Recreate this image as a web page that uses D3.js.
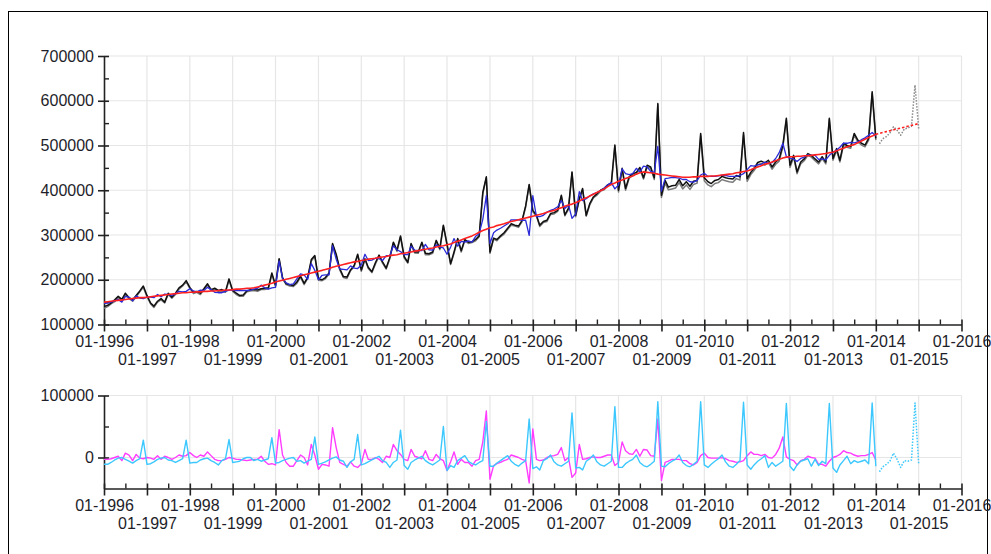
<!DOCTYPE html>
<html><head><meta charset="utf-8">
<script src="https://cdn.jsdelivr.net/npm/d3@7"></script>
<style>
html,body{margin:0;padding:0;background:#fff;}
svg{display:block;font-family:"Liberation Sans",Arial,sans-serif;}
</style></head><body>
<svg id="c" width="991" height="554"></svg>
<script>
// ---------- DATA (values in thousands) ----------
const startMonth = [1996, 1];
const forecastStartMonth = [2014, 2];
const unit = 1000;

// original series (black)
const original = [
140,143,148,155,163,156,170,160,155,165,175,186,
165,148,141,152,158,150,170,161,170,182,188,198,
183,172,174,170,180,191,178,181,176,178,174,202,
176,170,165,166,175,178,178,177,180,181,182,215,
188,247,205,191,189,187,195,208,192,205,245,254,
202,200,205,215,281,257,225,207,206,222,232,257,
222,247,228,218,238,255,240,226,250,284,266,298,
252,239,281,262,262,284,259,258,262,288,270,322,
280,236,262,292,265,290,284,285,290,298,395,430,
262,293,290,298,305,315,325,322,320,332,365,413,
355,344,322,330,333,348,350,355,389,345,360,441,
344,381,404,344,370,385,392,400,404,412,416,501,
400,449,404,430,437,440,451,428,456,452,428,594,
389,422,407,410,411,424,410,419,409,420,422,527,
428,419,415,422,424,431,428,426,425,433,430,529,
426,440,449,462,465,461,467,452,463,470,501,561,
456,478,441,463,470,482,478,470,463,475,463,561,
471,493,467,505,500,498,527,512,505,501,516,620,
516];

// calendar adjusted series (grey)
const calendarAdjusted = [
136,140,146,151,160,154,166,158,152,162,173,183,
162,146,138,150,155,148,167,159,167,179,186,195,
181,169,172,167,178,188,176,178,174,175,172,199,
174,167,163,163,173,175,176,174,178,178,180,212,
185,245,202,189,186,185,192,206,189,203,242,252,
199,198,202,213,278,255,222,205,203,220,229,255,
219,245,225,216,235,253,237,224,247,282,263,296,
249,237,278,260,259,282,256,256,259,286,267,320,
277,234,259,290,262,288,281,283,287,296,392,428,
259,291,287,296,302,313,322,320,317,330,362,411,
352,342,319,328,330,346,347,353,386,343,357,439,
341,379,401,342,367,383,389,398,401,410,413,499,
396,446,400,427,433,437,447,425,452,449,424,591,
384,416,401,403,405,417,403,412,402,413,416,522,
421,412,408,415,417,424,421,419,418,426,423,524,
420,435,444,457,460,456,462,447,458,465,496,557,
451,474,437,459,466,478,474,466,459,471,459,558,
467,489,463,501,496,494,523,508,501,497,512,617,
512];

// seasonally adjusted (blue)
const seasonallyAdjusted = [
147,148,150,153,156,150,163,161,153,164,159,158,
161,161,160,167,162,168,167,165,169,174,173,174,
180,175,173,177,176,183,178,172,171,171,174,177,
177,176,176,176,176,177,179,181,188,182,179,182,
183,242,203,193,189,191,202,213,211,201,236,221,
200,210,211,211,276,246,224,223,222,231,226,225,
233,257,243,244,248,247,243,254,254,276,267,263,
256,256,275,266,265,265,279,267,266,278,273,271,
257,273,292,275,286,284,287,284,297,303,335,388,
281,305,311,315,320,325,334,334,334,333,333,299,
388,341,341,344,351,355,358,363,377,359,367,337,
347,397,377,381,387,392,395,399,405,412,417,403,
412,448,437,435,437,449,441,454,452,442,440,498,
398,426,427,429,428,427,424,424,419,418,422,434,
438,431,431,431,432,434,433,431,431,431,433,437,
446,455,454,457,458,463,460,462,471,484,505,475,
472,470,464,471,474,479,478,478,469,470,468,478,
485,490,496,505,505,507,506,508,513,517,523,529,
521];

// trend (red)
const trend = [
150,151,152,153,154,155,156,157,158,159,160,160,
161,162,163,164,165,166,167,168,169,170,171,171,
172,172,173,173,174,174,175,175,176,176,177,177,
178,179,179,180,181,181,182,184,186,188,190,192,
195,197,199,201,203,205,207,209,211,213,215,217,
219,221,223,225,228,230,232,234,236,238,240,241,
243,244,246,247,248,250,251,252,254,255,256,258,
259,261,262,264,265,267,268,270,271,273,275,276,
278,280,283,286,289,292,295,298,302,306,310,313,
316,318,321,323,325,328,330,332,334,336,338,340,
342,344,346,348,351,353,355,358,361,364,367,369,
372,376,380,383,387,391,395,399,403,408,413,416,
420,423,426,429,432,436,439,441,440,439,438,436,
435,434,433,432,431,430,429,429,429,430,430,431,
431,431,432,432,433,434,435,436,437,439,440,442,
443,446,449,452,455,458,460,463,466,469,472,474,
475,475,476,476,477,477,478,479,480,481,482,484,
485,488,491,494,497,500,502,506,510,514,518,521,
525];

// seasonal component (cyan)
const seasonal = [
-11,-11,-8,-4,-1,0,-3,-6,-9,-5,-2,28,
-11,-10,-7,-3,-1,0,-4,-5,-8,-5,-2,28,
-9,-8,-8,-4,-2,-1,-5,-8,-12,-5,-2,29,
-8,-7,-6,-2,0,0,-5,-3,-6,-4,-2,32,
-9,-8,-5,-3,-1,0,-6,-5,-9,-6,-3,33,
-11,-9,-7,-4,-1,1,-4,-6,-16,-7,-3,37,
-12,-10,-7,-4,-1,2,-5,-8,-16,-8,-4,44,
-13,-19,-8,-4,-1,2,-5,-9,-12,-8,-4,50,
-21,-13,-16,-5,-1,3,-6,-10,-12,-8,-5,58,
-14,-14,-9,-5,-1,3,-6,-11,-14,-9,-5,62,
-18,-15,-20,-5,-2,4,-7,-12,-14,-10,-6,72,
-17,-16,-20,-6,-2,4,-7,-12,-14,-10,-6,82,
-16,-16,-10,-6,-3,4,-8,-13,-15,-11,-6,90,
-14,-15,-10,-6,-3,4,-8,-13,-15,-11,-6,90,
-12,-16,-11,-6,-2,4,-7,-14,-16,-11,-5,89,
-12,-19,-12,-6,-2,3,-16,-8,-14,-10,-6,87,
-14,-21,-12,-6,-4,-2,-14,-3,-13,-6,-10,87,
-17,-24,-12,-5,2,-10,-5,-8,-6,-4,-10,88,
-14];

// irregular component (magenta)
const irregular = [
-3,-3,-2,0,2,-5,7,4,-5,5,-1,-2,
0,-1,-3,3,-3,2,0,-3,0,4,2,3,
8,3,0,4,2,9,3,-3,-5,-5,-3,0,
-1,-3,-3,-4,-5,-4,-3,-3,2,-6,-11,-10,
-12,45,4,-8,-14,-14,-5,4,0,-12,21,4,
-19,-11,-12,-14,48,16,-8,-11,-14,-7,-14,-16,
-10,13,-3,-3,0,-3,-8,2,0,21,11,5,
-3,-5,13,2,0,-2,11,-3,-5,5,-2,-5,
-21,-7,9,-11,-3,-8,-8,-14,-5,-3,25,75,
-35,-13,-10,-8,-5,-3,4,2,0,-3,-5,-41,
46,-3,-5,-4,0,2,3,5,16,-5,0,-32,
-25,21,-3,-2,0,1,0,0,2,4,4,-13,
-8,25,11,6,5,13,2,13,12,3,2,62,
-37,-8,-6,-3,-3,-3,-5,-5,-10,-12,-8,3,
7,0,-1,-1,-1,0,-2,-5,-6,-8,-7,-5,
3,9,5,5,3,5,0,-1,5,15,33,1,
-3,-5,-12,-5,-3,2,0,-1,-11,-11,-14,-6,
0,2,5,11,8,7,4,2,3,3,5,8,
-4];

// forecasts (dotted)
const forecastOriginal = [504,515,520,528,542,534,523,537,539,543,635,538];
const forecastTrend    = [527,529,531,533,535,537,539,541,543,545,547,549];
const forecastSeasonal = [-23,-15,-11,-6,7,-3,-16,-5,-6,-4,88,-10];

// axis ticks
const xDomainYears = [1996, 2016];
const topYTicks = [100000,200000,300000,400000,500000,600000,700000];
const topYMinor = [150000,250000,350000,450000,550000,650000];
const botYTicks = [0,100000];
const botYMinor = [50000];

// ---------- DRAWING ----------
const svg = d3.select("#c");
svg.append("rect").attr("x",8.5).attr("y",11.5).attr("width",979).attr("height",600)
  .attr("fill","#fff").attr("stroke","#000").attr("stroke-width",1);

const monthDate = (start, i) => new Date(Date.UTC(start[0], start[1]-1+i, 1));
const series = arr => arr.map((v,i)=>({d:monthDate(startMonth,i), v:v*unit}));
const fseries = arr => arr.map((v,i)=>({d:monthDate(forecastStartMonth,i), v:v*unit}));

const x = d3.scaleUtc()
  .domain([new Date(Date.UTC(xDomainYears[0],0,1)), new Date(Date.UTC(xDomainYears[1],0,1))])
  .range([104, 961.5]);
const years = d3.utcYear.range(new Date(Date.UTC(xDomainYears[0],0,1)), new Date(Date.UTC(xDomainYears[1],0,2)));
const halfYears = years.slice(0,-1).map(d=>new Date(Date.UTC(d.getUTCFullYear(),6,1)));

const FONT = 16, TXT = "#1e1e2a", AX = "#222";

function panel(y, yTicks, yMinor, opts){
  const [y0,y1] = y.range(); // bottom, top
  const g = svg.append("g");
  // grid
  g.append("g").selectAll("line").data(years.slice(1)).join("line")
    .attr("x1",d=>x(d)).attr("x2",d=>x(d)).attr("y1",y0).attr("y2",y1)
    .attr("stroke","#e6e6e6").attr("stroke-width",1.2);
  g.append("g").selectAll("line").data(opts.grid).join("line")
    .attr("x1",x.range()[0]).attr("x2",x.range()[1]).attr("y1",d=>y(d)).attr("y2",d=>y(d))
    .attr("stroke","#e6e6e6").attr("stroke-width",1.2);

  // x axis
  const xa = g.append("g").attr("transform",`translate(0,${y0})`)
    .call(d3.axisBottom(x).tickValues(years).tickFormat(d3.utcFormat("%m-%Y")).tickSizeInner(7).tickSizeOuter(0));
  xa.attr("color",AX).attr("font-family",null).attr("font-size",null);
  xa.select(".domain").attr("stroke-width",1.6);
  xa.selectAll(".tick line").attr("y1",-5).attr("y2",7).attr("stroke-width",1.6);
  xa.selectAll(".tick text").attr("fill",TXT).attr("font-size",FONT)
    .attr("y",(d,i)=> i%2===0 ? 11 : 29);
  g.append("g").attr("transform",`translate(0,${y0})`)
    .call(d3.axisBottom(x).tickValues(halfYears).tickFormat("").tickSizeInner(-5).tickSizeOuter(0))
    .attr("color",AX).call(s=>s.select(".domain").remove())
    .selectAll(".tick line").attr("stroke-width",1.4);

  // y axis
  const ya = g.append("g").attr("transform",`translate(${x.range()[0]},0)`)
    .call(d3.axisLeft(y).tickValues(yTicks).tickFormat(d3.format("d")).tickSizeInner(6).tickSizeOuter(0));
  ya.attr("color",AX).attr("font-family",null).attr("font-size",null);
  ya.select(".domain").attr("stroke-width",1.6);
  ya.selectAll(".tick line").attr("x1",5).attr("stroke-width",1.6);
  ya.selectAll(".tick text").attr("fill",TXT).attr("font-size",FONT).attr("x",-10);
  g.append("g").attr("transform",`translate(${x.range()[0]},0)`)
    .call(d3.axisRight(y).tickValues(yMinor).tickFormat("").tickSizeInner(5).tickSizeOuter(0))
    .attr("color",AX).call(s=>s.select(".domain").remove())
    .selectAll(".tick line").attr("stroke-width",1.4);
  return g;
}

// ---- top panel ----
const yTop = d3.scaleLinear().domain([100000,700000]).range([324.5,56]);
const gTop = panel(yTop, topYTicks, topYMinor, {grid: topYTicks.slice(1)});
const lineTop = d3.line().x(d=>x(d.d)).y(d=>yTop(d.v));
const topLines = [
  {data:series(calendarAdjusted), color:"#7a7a7a", w:1.5},
  {data:series(original), color:"#111", w:1.5},
  {data:series(seasonallyAdjusted), color:"#2b2bd8", w:1.3},
  {data:series(trend), color:"#ff2020", w:1.6},
];
const gL = svg.append("g").attr("fill","none").attr("stroke-linejoin","round");
topLines.forEach(s=>gL.append("path").attr("d",lineTop(s.data)).attr("stroke",s.color).attr("stroke-width",s.w));
gL.append("path").attr("d",lineTop(fseries(forecastOriginal))).attr("stroke","#8a8a8a")
  .attr("stroke-width",1.5).attr("stroke-dasharray","1.5,1.5");
const lastTrend = {d:monthDate(startMonth,trend.length-1), v:trend[trend.length-1]*unit};
gL.append("path").attr("d",lineTop([lastTrend].concat(fseries(forecastTrend)))).attr("stroke","#ff2020")
  .attr("stroke-width",1.6).attr("stroke-dasharray","2.5,2");

// ---- bottom panel ----
const yBot = d3.scaleLinear().domain([-50000,100000]).range([488.5,395.5]);
panel(yBot, botYTicks, botYMinor, {grid: botYTicks});
const lineBot = d3.line().x(d=>x(d.d)).y(d=>yBot(d.v));
const gB = svg.append("g").attr("fill","none").attr("stroke-linejoin","round");
gB.append("path").attr("d",lineBot(series(irregular))).attr("stroke","#ff3cff").attr("stroke-width",1.4);
gB.append("path").attr("d",lineBot(series(seasonal))).attr("stroke","#3cc8ff").attr("stroke-width",1.4);
gB.append("path").attr("d",lineBot(fseries(forecastSeasonal))).attr("stroke","#3cc8ff")
  .attr("stroke-width",1.5).attr("stroke-dasharray","1.5,1.5");
</script>
</body></html>
